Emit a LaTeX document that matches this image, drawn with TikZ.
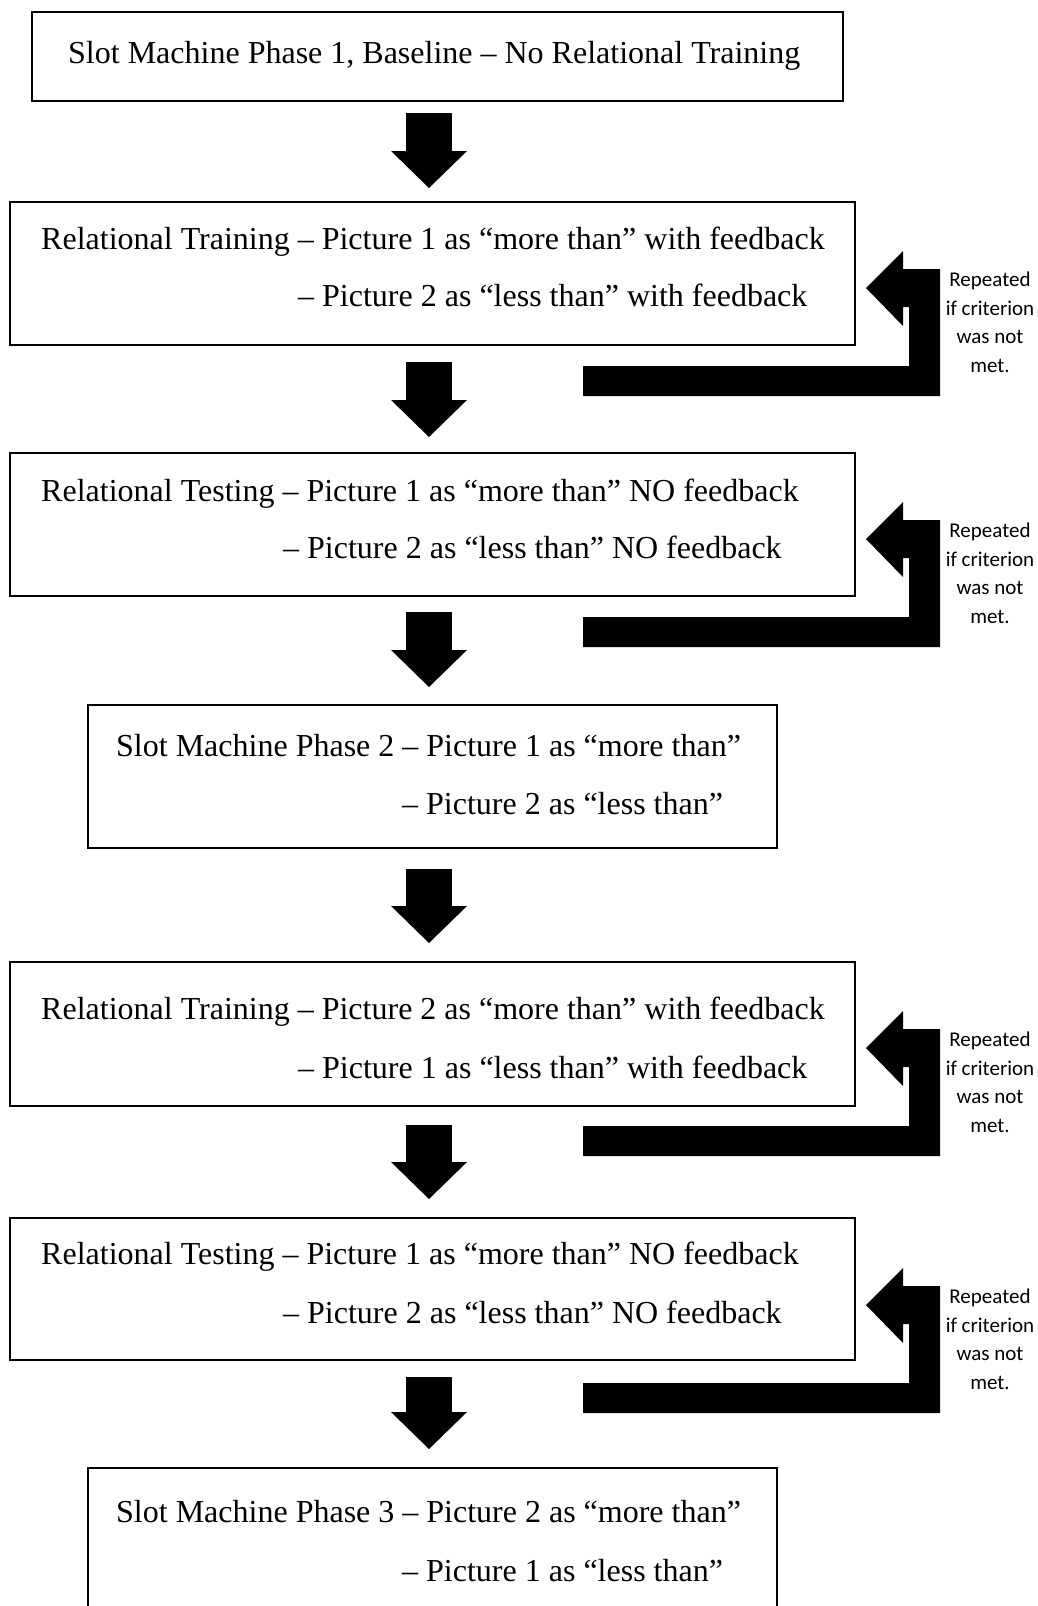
\documentclass[tikz,border=0pt]{standalone}
\usepackage{fontspec}
\setmainfont{Liberation Serif}
\newfontfamily\carlito{Carlito}
\usetikzlibrary{arrows.meta,calc}
\tikzset{
  box/.style={draw=black, line width=1.6pt, inner sep=0pt, outer sep=0pt, anchor=north west},
  txt/.style={anchor=base west, inner sep=0pt, font=\fontsize{32}{38}\selectfont},
  blockarrow/.style={line width=46pt, -{Triangle[width=76pt,length=37pt,line width=0pt]}},
  note/.style={align=center, inner sep=0pt, anchor=north, font=\carlito\fontsize{21}{28.5}\selectfont},
  loopshape/.style={fill=black}
}
\newcommand\fbloop[2]{%
  \fill[loopshape] (866,#1+86) -- (903,#1+49) -- (903,#1+67) -- (940,#1+67) -- (940,#1+194)
    -- (583,#1+194) -- (583,#1+164) -- (909,#1+164) -- (909,#1+105) -- (903,#1+105)
    -- (903,#1+124) -- cycle;
  \node[note] (#2) at (990,#1+70) {Repeated\\if criterion\\was not\\met.};
}
\begin{document}
\begin{tikzpicture}[x=1pt,y=-1pt]
\useasboundingbox (0,0) rectangle (1038,1606);
\clip (0,0) rectangle (1038,1606);
\coordinate (ax) at (429,0);

% boxes
\node[box, minimum width=811pt, minimum height=89pt] (b1) at (32,12) {};
\node[box, minimum width=845pt, minimum height=143pt] (b2) at (10,202) {};
\node[box, minimum width=845pt, minimum height=143pt] (b3) at (10,453) {};
\node[box, minimum width=689pt, minimum height=143pt] (b4) at (88,705) {};
\node[box, minimum width=845pt, minimum height=144pt] (b5) at (10,962) {};
\node[box, minimum width=845pt, minimum height=142pt] (b6) at (10,1218) {};
\node[box, minimum width=689pt, minimum height=143pt] (b7) at (88,1468) {};

% texts
\node[txt] (t1) at (68,63) {Slot Machine Phase 1, Baseline – No Relational Training};
\node[txt] (t2a) at (41,249) {Relational Training – Picture 1 as “more than” with feedback};
\node[txt] (t2b) at (298,306) {– Picture 2 as “less than” with feedback};
\node[txt] (t3a) at (41,501) {Relational Testing – Picture 1 as “more than” NO feedback};
\node[txt] (t3b) at (283,558) {– Picture 2 as “less than” NO feedback};
\node[txt] (t4a) at (116,756) {Slot Machine Phase 2 – Picture 1 as “more than”};
\node[txt] (t4b) at (402,814) {– Picture 2 as “less than”};
\node[txt] (t5a) at (41,1019) {Relational Training – Picture 2 as “more than” with feedback};
\node[txt] (t5b) at (298,1078) {– Picture 1 as “less than” with feedback};
\node[txt] (t6a) at (41,1264) {Relational Testing – Picture 1 as “more than” NO feedback};
\node[txt] (t6b) at (283,1323) {– Picture 2 as “less than” NO feedback};
\node[txt] (t7a) at (116,1522) {Slot Machine Phase 3 – Picture 2 as “more than”};
\node[txt] (t7b) at (402,1581) {– Picture 1 as “less than”};

% down arrows
\draw[blockarrow] ($(b1.south -| ax)+(0,12)$) -- ($(b2.north -| ax)+(0,-14)$);
\draw[blockarrow] ($(b2.south -| ax)+(0,17)$) -- ($(b3.north -| ax)+(0,-16)$);
\draw[blockarrow] ($(b3.south -| ax)+(0,16)$) -- ($(b4.north -| ax)+(0,-18)$);
\draw[blockarrow] ($(b4.south -| ax)+(0,21)$) -- ($(b5.north -| ax)+(0,-19)$);
\draw[blockarrow] ($(b5.south -| ax)+(0,19)$) -- ($(b6.north -| ax)+(0,-19)$);
\draw[blockarrow] ($(b6.south -| ax)+(0,17)$) -- ($(b7.north -| ax)+(0,-19)$);

% repeat loops
\fbloop{202}{n2}
\fbloop{453}{n3}
\fbloop{962}{n5}
\fbloop{1219}{n6}
\end{tikzpicture}
\end{document}
